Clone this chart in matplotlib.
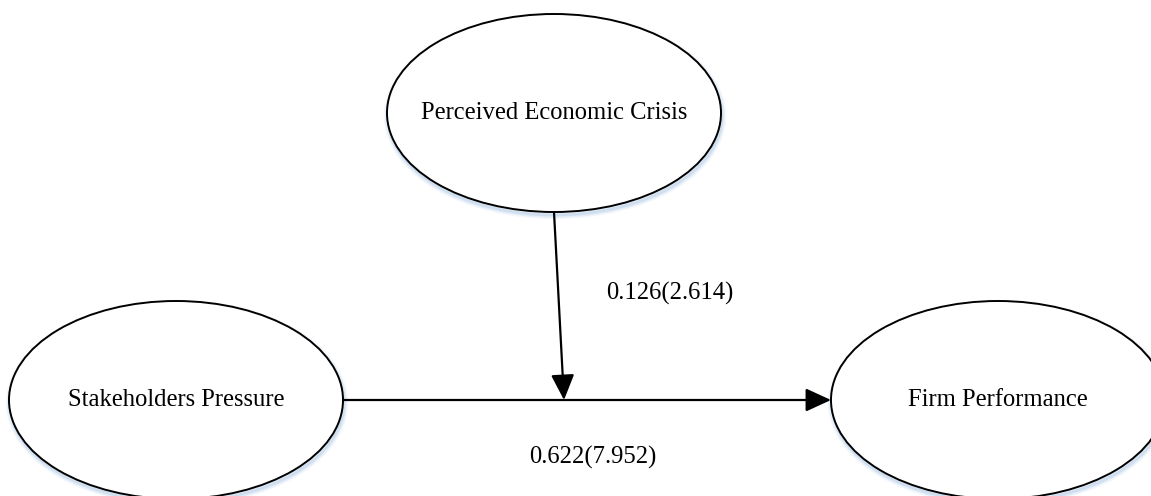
import matplotlib.pyplot as plt
from matplotlib.patches import Ellipse, FancyArrowPatch

# constructs and path estimates
constructs = ["Perceived Economic Crisis", "Stakeholders Pressure", "Firm Performance"]
paths = ["0.126(2.614)", "0.622(7.952)"]

# layout (pixel coords, y down)
W, H = 1151, 496
centers = {"Perceived Economic Crisis": (554, 113),
           "Stakeholders Pressure": (176, 400),
           "Firm Performance": (998, 400)}
ew, eh = 334, 198

plt.rcParams["font.family"] = ["Liberation Serif", "DejaVu Serif"]
FS = 17.7

fig = plt.figure(figsize=(W / 100, H / 100), dpi=100)
ax = fig.add_axes([0, 0, 1, 1])
ax.set_xlim(0, W)
ax.set_ylim(H, 0)
ax.set_aspect("equal")
ax.axis("off")

for name in constructs:
    cx, cy = centers[name]
    # soft bluish shadow
    for k, a in [(6, 0.10), (4, 0.18), (2, 0.30)]:
        ax.add_patch(Ellipse((cx + 1, cy + 3), ew, eh, fill=False,
                             edgecolor="#9dbfe3", lw=k, alpha=a, zorder=1))
    ax.add_patch(Ellipse((cx, cy), ew, eh, facecolor="white",
                         edgecolor="black", lw=1.4, zorder=2))
    ax.text(cx, cy, name, ha="center", va="center", fontsize=FS, zorder=3)

# main path: Stakeholders Pressure -> Firm Performance
sx, sy = centers["Stakeholders Pressure"]
fx, fy = centers["Firm Performance"]
ax.add_patch(FancyArrowPatch((sx + ew / 2, sy), (fx - ew / 2, fy),
                             arrowstyle="-|>,head_length=12,head_width=5.5",
                             mutation_scale=1.3, lw=1.6, color="black",
                             shrinkA=0, shrinkB=0, zorder=4))

# moderating path onto the main line
px, py = centers["Perceived Economic Crisis"]
ax.add_patch(FancyArrowPatch((px, py + eh / 2), (564, sy),
                             arrowstyle="-|>,head_length=12,head_width=5.5",
                             mutation_scale=1.3, lw=1.6, color="black",
                             shrinkA=0, shrinkB=0, zorder=4))

ax.text(670, 293, paths[0], ha="center", va="center", fontsize=FS)
ax.text(593, 457, paths[1], ha="center", va="center", fontsize=FS)

fig.savefig("out.png", dpi=100, facecolor="white")
